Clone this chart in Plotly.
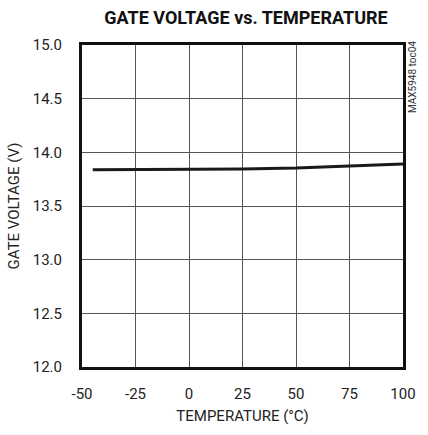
import plotly.graph_objects as go

temperature = [-45, -25, 0, 25, 50, 75, 100]
gate_voltage = [13.838, 13.838, 13.839, 13.845, 13.853, 13.871, 13.892]

x_ticks = [-50, -25, 0, 25, 50, 75, 100]
y_ticks = [12.0, 12.5, 13.0, 13.5, 14.0, 14.5, 15.0]

font_fam = "Roboto, Liberation Sans, sans-serif"

fig = go.Figure()
fig.add_trace(go.Scatter(x=temperature, y=gate_voltage, mode="lines",
                         line=dict(color="#1a1a1a", width=3), showlegend=False))

fig.update_layout(
    width=428, height=435,
    margin=dict(l=82, r=17, t=45, b=61),
    paper_bgcolor="white", plot_bgcolor="white",
    font=dict(family=font_fam, color="#222", size=15),
    title=dict(text="<b>GATE VOLTAGE vs. TEMPERATURE</b>", x=246/428, xanchor="center",
               y=1 - 18/435, yanchor="middle",
               font=dict(family=font_fam, size=18, color="#111")),
    xaxis=dict(range=[-50, 100], tickvals=x_ticks, ticktext=[str(v) for v in x_ticks],
               showgrid=True, gridcolor="#555", gridwidth=1,
               showline=True, linecolor="#111", linewidth=3, mirror=True,
               zeroline=False, ticks="outside", ticklen=11, tickcolor="rgba(0,0,0,0)",
               title=dict(text="TEMPERATURE (°C)", font=dict(size=15), standoff=9),
               tickfont=dict(size=15)),
    yaxis=dict(range=[12.0, 15.0], tickvals=y_ticks, ticktext=[f"{v:.1f}" for v in y_ticks],
               showgrid=True, gridcolor="#555", gridwidth=1,
               showline=True, linecolor="#111", linewidth=3, mirror=True,
               zeroline=False, ticks="outside", ticklen=14, tickcolor="rgba(0,0,0,0)",
               title=dict(text="GATE VOLTAGE (V)", font=dict(size=15), standoff=10),
               tickfont=dict(size=15)),
)

fig.add_annotation(text="MAX5948 toc04", xref="paper", yref="paper",
                   x=(421 - 82) / 329, y=(374 - 78) / 329, xanchor="center", yanchor="middle",
                   textangle=-90, showarrow=False,
                   font=dict(family=font_fam, size=10, color="#333"))

fig.write_html("out.html", config={"displayModeBar": False},
               post_script="document.body.style.margin='0';")
